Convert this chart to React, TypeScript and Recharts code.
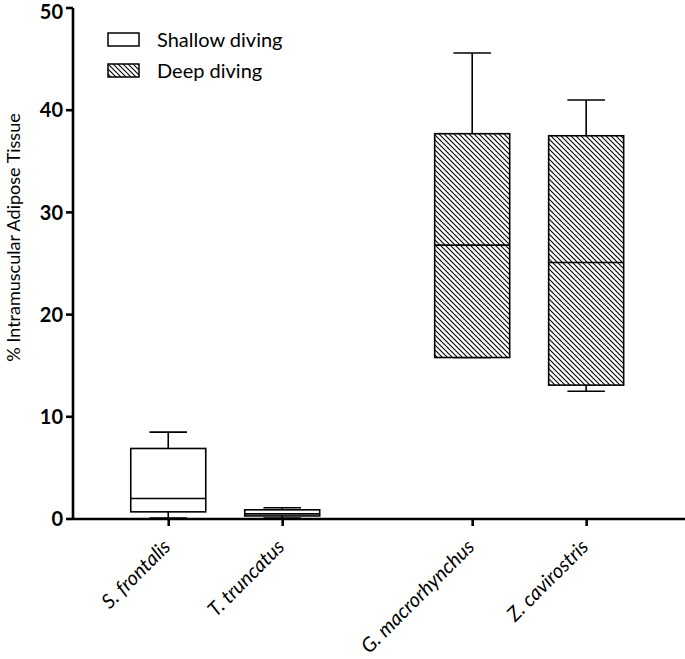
import { Bar, ComposedChart, Legend, XAxis, YAxis } from "recharts";

// Intramuscular adipose tissue (%) per species, box = Q1–Q3, whiskers = min–max.
const species = ["S. frontalis", "T. truncatus", "G. macrorhynchus", "Z. cavirostris"];
const groups = ["shallow", "shallow", "deep", "deep"];
// x positions leave a wider gap between the shallow and deep divers
const positions = [1, 2, 3.667, 4.667];
const mins = [0.1, 0.1, 15.8, 12.5];
const q1s = [0.7, 0.3, 15.8, 13.1];
const medians = [2.0, 0.5, 26.8, 25.1];
const q3s = [6.9, 0.9, 37.7, 37.5];
const maxs = [8.5, 1.1, 45.6, 41.0];

const yTicks = [0, 10, 20, 30, 40, 50];
const legendItems = [
  { key: "shallow", label: "Shallow diving" },
  { key: "deep", label: "Deep diving" },
];

const FONT = "Lato, 'Open Sans', sans-serif";

const rows = species.map((name, i) => ({
  name,
  group: groups[i],
  x: positions[i],
  min: mins[i],
  q1: q1s[i],
  median: medians[i],
  q3: q3s[i],
  max: maxs[i],
}));

function fillFor(group: string) {
  return group === "deep" ? "url(#hatch)" : "#fff";
}

// Range bar spans min..max; the inner marks are placed by linear interpolation
// along the bar's own pixel extent (the y scale is linear).
function BoxShape(props: any) {
  const { x, y, width, height, payload } = props;
  const top = Math.min(y, y + height);
  const h = Math.abs(height);
  const { min, q1, median, q3, max, group } = payload;
  const py = (v: number) => top + ((max - v) / (max - min)) * h;
  const cx = x + width / 2;
  const cap = width / 4;
  const sw = 1.6;
  return (
    <g>
      <line x1={cx} x2={cx} y1={py(max)} y2={py(q3)} stroke="#000" strokeWidth={sw} />
      <line x1={cx - cap} x2={cx + cap} y1={py(max)} y2={py(max)} stroke="#000" strokeWidth={sw} />
      <line x1={cx} x2={cx} y1={py(q1)} y2={py(min)} stroke="#000" strokeWidth={sw} />
      <line x1={cx - cap} x2={cx + cap} y1={py(min)} y2={py(min)} stroke="#000" strokeWidth={sw} />
      <rect
        x={x}
        y={py(q3)}
        width={width}
        height={py(q1) - py(q3)}
        fill={fillFor(group)}
        stroke="#000"
        strokeWidth={sw}
      />
      <line x1={x} x2={x + width} y1={py(median)} y2={py(median)} stroke="#000" strokeWidth={sw} />
    </g>
  );
}

function SpeciesTick(props: any) {
  const { x, y, payload } = props;
  const idx = positions.indexOf(payload.value);
  return (
    <g transform={`translate(${x + 3},${y + 20})`}>
      <text
        x={0}
        y={0}
        textAnchor="end"
        transform="rotate(-45)"
        fontFamily={FONT}
        fontStyle="italic"
        fontSize={20}
        fill="#000"
      >
        {species[idx]}
      </text>
    </g>
  );
}

function YTitle(props: any) {
  const { viewBox } = props;
  const cx = viewBox.x + 13;
  const cy = viewBox.y + viewBox.height / 2 - 26;
  return (
    <text
      x={cx}
      y={cy}
      textAnchor="middle"
      dominantBaseline="central"
      transform={`rotate(-90 ${cx} ${cy})`}
      fontFamily={FONT}
      fontSize={18}
      fill="#000"
    >
      % Intramuscular Adipose Tissue
    </text>
  );
}

function LegendBox() {
  return (
    <div style={{ fontFamily: FONT, fontSize: 20, color: "#000", lineHeight: "31px" }}>
      {legendItems.map((item) => (
        <div key={item.key} style={{ display: "flex", alignItems: "center", height: 31 }}>
          <svg width={34} height={16} style={{ display: "block" }}>
            <rect x={1} y={1} width={31} height={13} fill={fillFor(item.key)} stroke="#000" strokeWidth={1.5} />
          </svg>
          <span style={{ marginLeft: 16 }}>{item.label}</span>
        </div>
      ))}
    </div>
  );
}

export default function App() {
  return (
    <div style={{ position: "absolute", left: 0, top: 0, background: "#fff" }}>
      <ComposedChart
        width={685}
        height={659}
        data={rows}
        margin={{ top: 8, right: 0, bottom: 0, left: 0 }}
      >
        <defs>
          <pattern id="hatch" patternUnits="userSpaceOnUse" width={5} height={5}>
            <rect width={5} height={5} fill="#fff" />
            <path d="M-1,-1 L6,6 M-1,4 L1,6 M4,-1 L6,1" stroke="#000" strokeWidth={1.1} />
          </pattern>
        </defs>
        <XAxis
          dataKey="x"
          type="number"
          domain={[0.16, 5.53]}
          ticks={positions}
          tick={<SpeciesTick />}
          tickSize={7}
          height={140}
          axisLine={{ stroke: "#000", strokeWidth: 2.6 }}
          tickLine={{ stroke: "#000", strokeWidth: 2.6 }}
          interval={0}
        />
        <YAxis
          type="number"
          domain={[0, 50]}
          ticks={yTicks}
          width={73}
          tickSize={7}
          tickMargin={3}
          axisLine={{ stroke: "#000", strokeWidth: 2.6 }}
          tickLine={{ stroke: "#000", strokeWidth: 2.6 }}
          tick={{ fill: "#000", fontSize: 20, fontWeight: 700, fontFamily: FONT }}
          label={<YTitle />}
        />
        <Legend
          layout="horizontal"
          verticalAlign="middle"
          content={<LegendBox />}
          wrapperStyle={{ top: 24, left: 107, width: "auto" }}
        />
        <Bar
          dataKey={(d: any) => [d.min, d.max]}
          barSize={75}
          shape={<BoxShape />}
          isAnimationActive={false}
        />
      </ComposedChart>
    </div>
  );
}
